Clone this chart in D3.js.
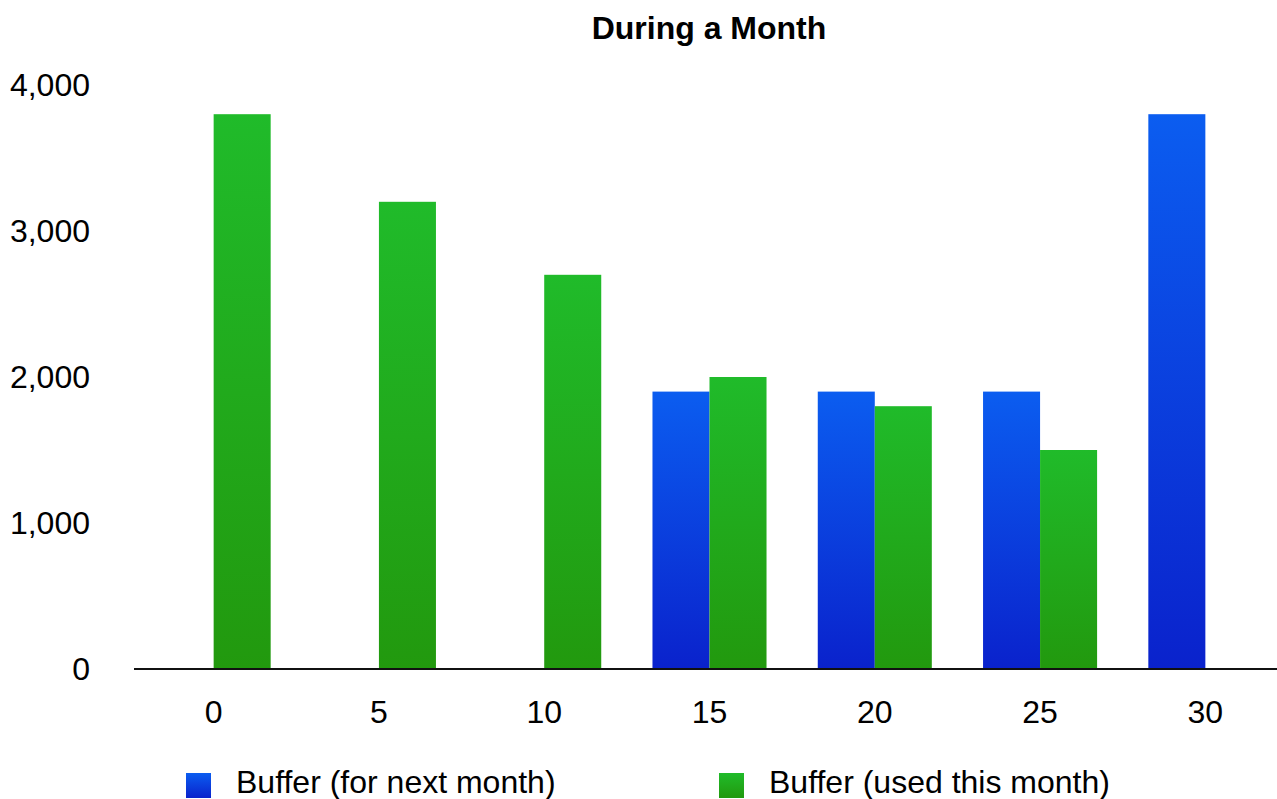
<!DOCTYPE html>
<html>
<head>
<meta charset="utf-8">
<script src="https://cdn.jsdelivr.net/npm/d3@7"></script>
<style>
  body { margin: 0; background: #fff; }
  text { font-family: Helvetica, Arial, "Liberation Sans", sans-serif; fill: #000; }
</style>
</head>
<body>
<script>
// data
var days = ["0", "5", "10", "15", "20", "25", "30"];
var nextMonth = [0, 0, 0, 1900, 1900, 1900, 3800];
var usedThisMonth = [3800, 3200, 2700, 2000, 1800, 1500, 0];
var yTicks = [0, 1000, 2000, 3000, 4000];
var seriesNames = ["Buffer (for next month)", "Buffer (used this month)"];

var width = 1277, height = 799;

var svg = d3.select("body").append("svg")
    .attr("width", width)
    .attr("height", height);

// gradients for the two series
var defs = svg.append("defs");
function gradient(id, top, bottom) {
    var g = defs.append("linearGradient")
        .attr("id", id)
        .attr("x1", 0).attr("y1", 0).attr("x2", 0).attr("y2", 1);
    g.append("stop").attr("offset", "0%").attr("stop-color", top);
    g.append("stop").attr("offset", "100%").attr("stop-color", bottom);
}
gradient("blueGrad", "#0b5df0", "#0a22cc");
gradient("greenGrad", "#20bb2a", "#22990e");

var x = d3.scaleBand()
    .domain(days)
    .range([131, 1288])
    .paddingInner(0.31)
    .paddingOuter(0.155);

var sub = d3.scaleBand()
    .domain(["next", "used"])
    .range([0, x.bandwidth()]);

var y = d3.scaleLinear()
    .domain([0, 4000])
    .range([669, 85]);

// title
svg.append("text")
    .attr("x", 709)
    .attr("y", 39)
    .attr("text-anchor", "middle")
    .style("font-size", "32px")
    .style("font-weight", "bold")
    .text("During a Month");

// y axis labels, no line
var yAxis = d3.axisLeft(y)
    .tickValues(yTicks)
    .tickFormat(d3.format(","))
    .tickSize(0)
    .tickPadding(0);
var gy = svg.append("g")
    .attr("transform", "translate(90,0)")
    .call(yAxis);
gy.select(".domain").remove();
gy.selectAll("text")
    .style("font-size", "32px")
    .attr("font-family", null);

// bars
var rows = days.map(function (d, i) {
    return { day: d, next: nextMonth[i], used: usedThisMonth[i] };
});

var groups = svg.selectAll("g.day")
    .data(rows)
    .enter()
    .append("g")
    .attr("class", "day")
    .attr("transform", function (d) { return "translate(" + x(d.day) + ",0)"; });

groups.append("rect")
    .attr("x", sub("next"))
    .attr("width", sub.bandwidth())
    .attr("y", function (d) { return y(d.next); })
    .attr("height", function (d) { return y(0) - y(d.next); })
    .style("fill", "url(#blueGrad)");

groups.append("rect")
    .attr("x", sub("used"))
    .attr("width", sub.bandwidth())
    .attr("y", function (d) { return y(d.used); })
    .attr("height", function (d) { return y(0) - y(d.used); })
    .style("fill", "url(#greenGrad)");

// x axis
var xAxis = d3.axisBottom(x)
    .tickSize(0)
    .tickPadding(31);
var gx = svg.append("g")
    .attr("transform", "translate(0," + y(0) + ")")
    .call(xAxis);
gx.select(".domain")
    .attr("d", "M134,0H1277")
    .attr("stroke", "#111")
    .attr("stroke-width", 2);
gx.selectAll("text")
    .style("font-size", "32px")
    .attr("font-family", null);

// legend
var legendX = [186, 719];
var legend = svg.selectAll("g.legend")
    .data(seriesNames)
    .enter()
    .append("g")
    .attr("class", "legend")
    .attr("transform", function (d, i) { return "translate(" + legendX[i] + ",773)"; });

legend.append("rect")
    .attr("width", 25)
    .attr("height", 25)
    .style("fill", function (d, i) { return i == 0 ? "url(#blueGrad)" : "url(#greenGrad)"; });

legend.append("text")
    .attr("x", 50)
    .attr("y", 20)
    .style("font-size", "32px")
    .text(function (d) { return d; });
</script>
</body>
</html>
